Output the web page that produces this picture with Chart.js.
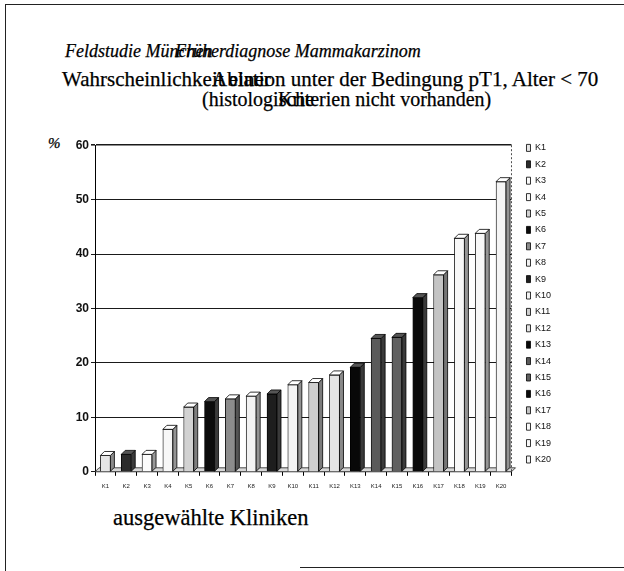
<!DOCTYPE html>
<html>
<head>
<meta charset="utf-8">
<script src="https://cdn.jsdelivr.net/npm/chart.js@4.4.1/dist/chart.umd.min.js"></script>
<style>
    body { margin: 0; width: 624px; height: 571px; background: #fff; position: relative; overflow: hidden; font-family: "Liberation Serif", serif; color: #000; }
    .t { position: absolute; white-space: nowrap; line-height: 1; -webkit-text-stroke: 0.25px #000; }
    #frame { position: absolute; left: 5px; top: 4px; width: 700px; height: 700px; border-left: 1px solid #222; border-top: 1px solid #222; }
    #bottomLine { position: absolute; left: 300px; top: 567px; width: 324px; border-top: 1px solid #222; }
    #box { position: absolute; left: 0; top: 136px; width: 561px; height: 363px; }
</style>
</head>
<body>
<div id="frame"></div>
<div id="bottomLine"></div>

<div class="t" style="left:65px;top:42px;font-size:18px;font-style:italic;">Feldstudie München</div>
<div class="t" style="left:175px;top:42px;font-size:18px;font-style:italic;">Früherdiagnose Mammakarzinom</div>
<div class="t" style="left:62px;top:69px;font-size:21px;">Wahrscheinlichkeit einer</div>
<div class="t" style="left:212px;top:69px;font-size:21px;">Ablation unter der Bedingung pT1, Alter &lt; 70</div>
<div class="t" style="left:202px;top:89px;font-size:20px;">(histologische</div>
<div class="t" style="left:278px;top:89px;font-size:20px;">Kriterien nicht vorhanden)</div>
<div class="t" style="left:48px;top:136px;font-size:15px;font-style:italic;">%</div>
<div class="t" style="left:113px;top:507px;font-size:22.5px;">ausgewählte Kliniken</div>

<div id="box"><canvas id="chart"></canvas></div>

<script>
const categories = ['K1', 'K2', 'K3', 'K4', 'K5', 'K6', 'K7', 'K8', 'K9', 'K10',
                    'K11', 'K12', 'K13', 'K14', 'K15', 'K16', 'K17', 'K18', 'K19', 'K20'];
const values = [3.0, 3.2, 3.2, 7.8, 11.9, 12.9, 13.4, 13.9, 14.3, 16.0,
                16.4, 17.8, 19.2, 24.5, 24.7, 32.0, 36.2, 42.9, 43.8, 53.3];
const yTicks = [0, 10, 20, 30, 40, 50, 60];

// greys of the scanned bars, front face
const barColors = ['#e6e6e6', '#2b2b2b', '#fbfbfb', '#f7f7f7', '#d2d2d2', '#0c0c0c', '#8c8c8c', '#f2f2f2', '#1e1e1e', '#f3f3f3',
                   '#cfcfcf', '#e4e4e4', '#080808', '#5a5a5a', '#606060', '#0a0a0a', '#c4c4c4', '#f8f8f8', '#f8f8f8', '#f5f5f5'];

const shade = (hex, f) => {
    const n = parseInt(hex.slice(1), 16);
    const c = [(n >> 16) & 255, (n >> 8) & 255, n & 255].map(v => Math.round(v * f));
    return `rgb(${c[0]},${c[1]},${c[2]})`;
};
const sideColors = barColors.map(c => parseInt(c.slice(1, 3), 16) > 100 ? shade(c, 0.6) : '#3a3a3a');
const topColors = barColors.map(c => parseInt(c.slice(1, 3), 16) > 100 ? '#fff' : '#555');

const depth = 4;

// fake 3D: floor, back edge, side and top faces of the bars
const bars3d = {
    id: 'bars3d',
    beforeDatasetsDraw(chart) {
        const { ctx, chartArea: a } = chart;
        ctx.save();
        ctx.fillStyle = '#d8d8d8';
        ctx.strokeStyle = '#222';
        ctx.lineWidth = 0.8;
        ctx.beginPath();
        ctx.moveTo(a.left, a.bottom);
        ctx.lineTo(a.left + depth, a.bottom - depth);
        ctx.lineTo(a.right + depth, a.bottom - depth);
        ctx.lineTo(a.right, a.bottom);
        ctx.closePath();
        ctx.fill();
        ctx.stroke();
        ctx.setLineDash([2, 2]);
        ctx.beginPath();
        ctx.moveTo(a.right, a.top);
        ctx.lineTo(a.right, a.bottom);
        ctx.stroke();
        ctx.restore();
    },
    afterDatasetsDraw(chart) {
        const ctx = chart.ctx;
        chart.getDatasetMeta(0).data.forEach((bar, i) => {
            const { x, y, base, width } = bar.getProps(['x', 'y', 'base', 'width'], true);
            const l = x - width / 2, r = x + width / 2;
            ctx.save();
            ctx.lineWidth = 0.8;
            ctx.strokeStyle = '#000';
            ctx.fillStyle = sideColors[i];
            ctx.beginPath();
            ctx.moveTo(r, y);
            ctx.lineTo(r + depth, y - depth);
            ctx.lineTo(r + depth, base - depth);
            ctx.lineTo(r, base);
            ctx.closePath();
            ctx.fill();
            ctx.stroke();
            ctx.fillStyle = topColors[i];
            ctx.beginPath();
            ctx.moveTo(l, y);
            ctx.lineTo(l + depth, y - depth);
            ctx.lineTo(r + depth, y - depth);
            ctx.lineTo(r, y);
            ctx.closePath();
            ctx.fill();
            ctx.stroke();
            ctx.restore();
        });
    }
};

new Chart(document.getElementById('chart'), {
    type: 'bar',
    data: {
        labels: categories,
        datasets: [{
            data: values,
            backgroundColor: barColors,
            borderColor: '#000',
            borderWidth: 0.8,
            barThickness: 10
        }]
    },
    options: {
        responsive: true,
        maintainAspectRatio: false,
        animation: false,
        layout: { padding: { left: 73, top: 0, right: 0, bottom: 2 } },
        plugins: {
            title: { display: false },
            tooltip: { enabled: false },
            legend: {
                position: 'right',
                align: 'start',
                fullSize: true,
                labels: {
                    boxWidth: 4,
                    boxHeight: 7,
                    padding: 7.4,
                    color: '#111',
                    font: { family: 'Liberation Sans', size: 9 },
                    generateLabels: () => categories.map((c, i) => ({
                        text: c,
                        fillStyle: barColors[i],
                        strokeStyle: '#000',
                        lineWidth: 0.8,
                        hidden: false,
                        index: i,
                        datasetIndex: 0,
                        fontColor: '#111'
                    }))
                }
            }
        },
        scales: {
            x: {
                offset: true,
                grid: { display: true, drawOnChartArea: false, drawTicks: true, tickLength: 4, offset: true, color: '#000' },
                border: { display: true, color: '#000', width: 1 },
                ticks: {
                    autoSkip: false,
                    maxRotation: 0,
                    padding: 7,
                    color: '#222',
                    font: { family: 'Liberation Sans', size: 6 }
                }
            },
            y: {
                min: 0,
                max: 60,
                afterBuildTicks: s => { s.ticks = yTicks.map(v => ({ value: v })); },
                afterFit: s => { s.width = 22; },
                grid: {
                    color: '#1a1a1a',
                    lineWidth: ctx => ctx.tick && ctx.tick.value === 60 ? 1.6 : 1,
                    tickLength: 4
                },
                border: { display: true, color: '#000', width: 1 },
                ticks: {
                    padding: 2,
                    color: '#111',
                    font: { family: 'Liberation Sans', size: 12, weight: 'bold' }
                }
            },
            yRight: {
                position: 'right',
                display: true,
                grid: { display: false },
                border: { display: false },
                ticks: { display: false },
                afterFit: s => { s.width = 7.6; }
            }
        }
    },
    plugins: [bars3d]
});
</script>
</body>
</html>
